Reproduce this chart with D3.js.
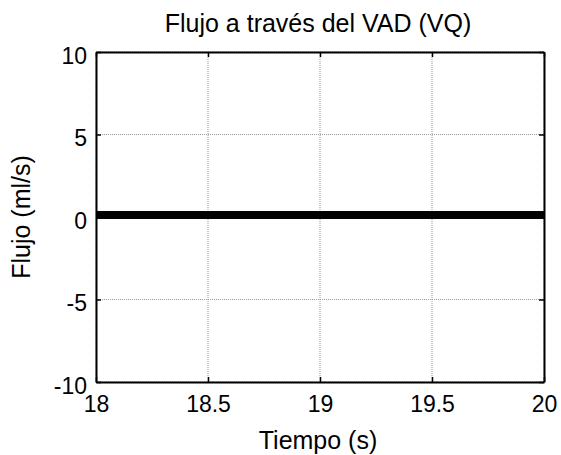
<!DOCTYPE html>
<html>
<head>
<meta charset="utf-8">
<script src="https://cdn.jsdelivr.net/npm/d3@7"></script>
<style>
  html, body { margin: 0; padding: 0; background: #fff; }
  svg { display: block; font-family: "Liberation Sans", Arial, sans-serif; }
</style>
</head>
<body>
<svg id="chart" width="561" height="455"></svg>
<script>
// Flow through the ventricular assist device over time
const tiempo = [18, 19.34, 20];
const flujo = [0.12, 0.12, 0.12];
const xTicks = [18, 18.5, 19, 19.5, 20];
const yTicks = [-10, -5, 0, 5, 10];

const svg = d3.select("#chart");
const margin = { left: 96, right: 17, top: 52, bottom: 73 };
const W = 561, H = 455;

const x = d3.scaleLinear().domain([18, 20]).range([margin.left, W - margin.right]);
const y = d3.scaleLinear().domain([-10, 10]).range([H - margin.bottom, margin.top]);

// plain hyphen for negatives, as in the original plot
const fmt = d => String(d);

const g = svg.append("g");

// grid
g.append("g").selectAll("line").data(xTicks).join("line")
  .attr("x1", d => x(d)).attr("x2", d => x(d))
  .attr("y1", y(-10)).attr("y2", y(10))
  .attr("stroke", "#9a9a9a").attr("stroke-width", 1)
  .attr("stroke-dasharray", "1,1");
g.append("g").selectAll("line").data(yTicks).join("line")
  .attr("y1", d => y(d)).attr("y2", d => y(d))
  .attr("x1", x(18)).attr("x2", x(20))
  .attr("stroke", "#9a9a9a").attr("stroke-width", 1)
  .attr("stroke-dasharray", "1,1");

// data
const line = d3.line().x((d, i) => x(tiempo[i])).y(d => y(d));
g.append("path").datum(flujo)
  .attr("d", line)
  .attr("fill", "none")
  .attr("stroke", "#000")
  .attr("stroke-width", 8);

// axes with inward ticks
const tickLen = 5;
const xAxisB = d3.axisBottom(x).tickValues(xTicks).tickSizeInner(-tickLen).tickSizeOuter(0).tickPadding(14)
  .tickFormat(fmt);
const xAxisT = d3.axisTop(x).tickValues(xTicks).tickSizeInner(-tickLen).tickSizeOuter(0).tickFormat("");
const yAxisL = d3.axisLeft(y).tickValues(yTicks).tickSizeInner(-tickLen).tickSizeOuter(0).tickPadding(9)
  .tickFormat(fmt);
const yAxisR = d3.axisRight(y).tickValues(yTicks).tickSizeInner(-tickLen).tickSizeOuter(0).tickFormat("");

function style(sel) {
  sel.select(".domain").attr("stroke", "#000").attr("stroke-width", 2);
  sel.selectAll(".tick line").attr("stroke", "#000").attr("stroke-width", 1.5);
  sel.selectAll(".tick text").attr("fill", "#000").attr("font-size", 23)
    .attr("font-family", "Liberation Sans, Arial, sans-serif");
}

g.append("g").attr("transform", `translate(0,${y(-10)})`).call(xAxisB).call(style)
  .selectAll(".tick text").attr("dy", "0.71em");
g.append("g").attr("transform", `translate(0,${y(10)})`).call(xAxisT).call(style);
g.append("g").attr("transform", `translate(${x(18)},0)`).call(yAxisL).call(style)
  .selectAll(".tick text").attr("dy", "0.48em");
g.append("g").attr("transform", `translate(${x(20)},0)`).call(yAxisR).call(style);

// labels
svg.append("text")
  .attr("x", (x(18) + x(20)) / 2 - 2).attr("y", 32)
  .attr("text-anchor", "middle").attr("font-size", 25)
  .text("Flujo a través del VAD (VQ)");

svg.append("text")
  .attr("x", (x(18) + x(20)) / 2 - 2).attr("y", 449)
  .attr("text-anchor", "middle").attr("font-size", 25)
  .text("Tiempo (s)");

svg.append("text")
  .attr("transform", `translate(30,${(y(-10) + y(10)) / 2}) rotate(-90)`)
  .attr("text-anchor", "middle").attr("font-size", 25)
  .text("Flujo (ml/s)");
</script>
</body>
</html>
